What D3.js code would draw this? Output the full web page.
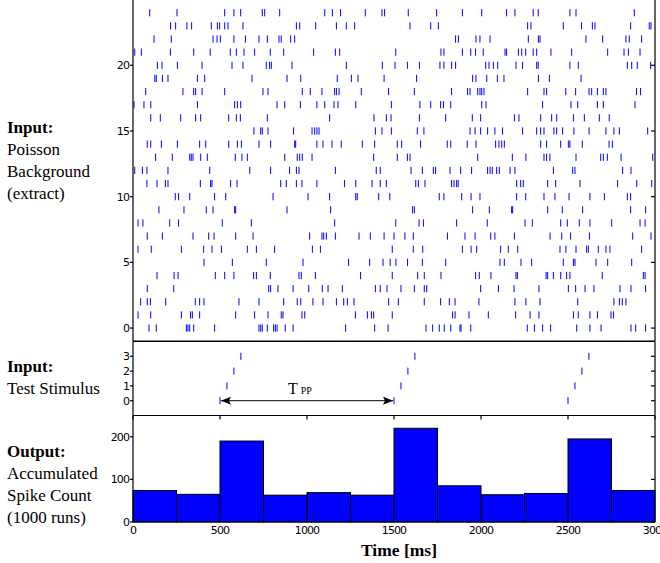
<!DOCTYPE html>
<html>
<head>
<meta charset="utf-8">
<script src="https://cdn.jsdelivr.net/npm/d3@7/dist/d3.min.js"></script>
<style>
    body { margin: 0; background: #fff; }
    svg { display: block; }
</style>
</head>
<body>
<svg id="chart" width="660" height="563"></svg>
<script>
// Poisson background raster, spike times in ms, row 0 first
const rasterRows = [
    [92,134,307,316,326,349,469,724,734,743,772,808,818,828,875,920,1222,1389,1466,1684,1722,1760,1789,1826,1879,1885,1941,2266,2307,2354,2400,2550,2626,2690,2862,2889,2946],
    [29,102,278,331,341,383,590,699,776,852,862,971,987,1278,1347,1370,1383,1490,1837,1851,1931,2042,2199,2282,2333,2531,2559,2626,2669,2747,2761],
    [44,82,100,188,358,383,408,609,724,866,944,964,1034,1092,1169,1211,1232,1270,1469,1525,1674,1768,1818,1851,1988,2195,2258,2339,2556,2764,2795,2812,2833],
    [82,234,780,791,833,920,1010,1088,1121,1203,1393,1421,1460,1540,1617,1674,1688,1998,2100,2190,2333,2502,2544,2598,2649,2799,2862,2946],
    [138,236,259,473,527,580,693,709,789,954,967,1048,1308,1490,1636,1674,1770,1969,1990,2057,2201,2209,2374,2383,2416,2458,2492,2511,2697,2933,2943],
    [408,571,766,977,1239,1360,1437,1478,1511,1578,1663,1797,2109,2134,2230,2291,2473,2531,2540,2661,2728,2866],
    [29,105,278,406,454,508,657,709,814,1031,1077,1490,1611,1665,1893,1943,1975,2113,2157,2211,2454,2488,2546,2607,2617,2674,2718,2741,2923],
    [82,169,345,435,466,590,690,1015,1086,1096,1111,1163,1299,1364,1443,1500,1563,1611,1807,1908,1966,2056,2080,2192,2397,2464,2515,2623,2872,2977],
    [29,57,211,262,513,680,1159,1510,1644,1669,1860,2036,2253,2295,2458,2496,2565,2626,2751,2914,2943],
    [149,293,421,460,584,590,885,1136,1607,1617,1952,2048,2176,2182,2383,2467,2584,2860,2946],
    [243,262,326,469,533,805,1006,1130,1280,1289,1412,1476,1760,1787,1889,1943,1994,2205,2257,2362,2425,2506,2626,2709,2841,2860],
    [80,138,186,201,387,446,454,561,598,849,881,939,971,1057,1216,1280,1374,1421,1456,1625,1640,1678,1831,1845,1860,1869,2205,2228,2243,2383,2429,2569,2785,2895,2981],
    [10,54,80,201,441,671,791,900,939,954,1163,1398,1421,1598,1663,1726,1739,1822,1883,1946,2038,2052,2065,2090,2105,2167,2195,2416,2527,2540,2814,2862],
    [130,226,326,335,345,389,427,588,626,657,872,944,958,973,1029,1383,1519,1577,1592,1981,2180,2258,2362,2377,2396,2546,2688,2703,2726,2805,2987],
    [82,102,163,255,383,418,550,600,623,724,791,929,935,1057,1092,1144,1197,1318,1389,1519,1544,1653,1806,1826,1921,1971,2084,2103,2119,2134,2343,2377,2458,2502,2511,2582,2736,2755],
    [695,734,743,776,923,1029,1044,1057,1069,1393,1431,1485,1634,1672,1937,1966,1998,2038,2080,2124,2239,2320,2343,2362,2419,2435,2469,2534,2621,2718,2764,2795,2958],
    [102,157,274,360,389,550,594,617,772,1130,1385,1456,1483,1646,1797,1950,1998,2192,2218,2343,2406,2435,2531,2594,2680,2737],
    [6,63,102,370,584,600,619,828,872,962,1057,1102,1155,1178,1280,1485,1649,1711,1768,1784,1826,2004,2029,2354,2517,2556,2669,2703,2885],
    [73,287,349,360,397,527,747,776,973,1019,1086,1159,1169,1184,1312,1469,1617,1831,1923,1937,1981,1994,2004,2017,2268,2362,2377,2487,2544,2621,2636,2669,2703,2718,2894,2917],
    [125,134,169,201,370,412,684,885,964,1174,1255,1293,1443,1630,1952,1971,2033,2094,2132,2330,2393,2575],
    [140,167,255,397,569,632,766,785,795,914,1226,1433,1506,1577,1646,1764,1787,1831,1854,2027,2046,2071,2096,2201,2239,2320,2329,2511,2559,2841,2866,2898,2975],
    [10,48,215,349,444,559,594,638,699,789,866,1038,1163,1188,1510,1770,1787,1893,1941,1969,2013,2138,2147,2215,2234,2257,2300,2320,2402,2521,2728,2822,2847,2914],
    [121,220,460,483,502,580,646,724,772,839,852,906,929,1854,1870,1971,1994,2052,2272,2330,2339,2603,2699,2833,2852,2923],
    [216,245,310,337,450,485,498,527,546,632,939,958,1050,1169,1226,1274,1592,1711,1755,2268,2287,2473,2578,2640,2655,2860,2967,2977],
    [96,253,527,580,619,743,757,843,1102,1146,1193,1335,1431,1446,1582,1745,1893,2004,2147,2195,2300,2329,2511,2546,2881]
];

// test stimulus, one row per input channel
const stimulusRows = [
    [500, 1500, 2500],
    [540, 1540, 2540],
    [580, 1580, 2580],
    [620, 1620, 2620]
];

// output histogram, 250 ms bins
const binStarts = [0, 250, 500, 750, 1000, 1250, 1500, 1750, 2000, 2250, 2500, 2750];
const binCounts = [74, 65, 190, 63, 69, 63, 220, 85, 64, 67, 195, 74];
const binWidth = 250;

const rasterTicks = [0, 5, 10, 15, 20];
const stimulusTicks = [0, 1, 2, 3];
const countTicks = [0, 100, 200];
const timeTicks = [0, 500, 1000, 1500, 2000, 2500, 3000];

const ppStart = 500;
const ppEnd = 1500;

const svg = d3.select('#chart');
const left = 133, right = 655;
const blue = '#0000ff';
const tickFont = '"DejaVu Sans", sans-serif';
const serif = '"Liberation Serif", "Times New Roman", serif';

const x = d3.scaleLinear().domain([0, 3000]).range([left, right]);
const yRaster = d3.scaleLinear().domain([-1, 25]).range([341.2, -0.4]);
const yStim = d3.scaleLinear().domain([-1, 4]).range([415.5, 341.5]);
const yCount = d3.scaleLinear().domain([0, 250]).range([522, 415.5]);

// raster spikes
const spikes = [];
rasterRows.forEach((row, i) => row.forEach(t => spikes.push({ t: t, row: i })));

svg.append('g')
    .selectAll('line')
    .data(spikes)
    .enter().append('line')
    .attr('x1', d => x(d.t))
    .attr('x2', d => x(d.t))
    .attr('y1', d => yRaster(d.row) - 3.6)
    .attr('y2', d => yRaster(d.row) + 3.6)
    .attr('stroke', blue)
    .attr('stroke-width', 1);

// stimulus spikes
const stimSpikes = [];
stimulusRows.forEach((row, i) => row.forEach(t => stimSpikes.push({ t: t, row: i })));

svg.append('g')
    .selectAll('line')
    .data(stimSpikes)
    .enter().append('line')
    .attr('x1', d => x(d.t))
    .attr('x2', d => x(d.t))
    .attr('y1', d => yStim(d.row) - 3.5)
    .attr('y2', d => yStim(d.row) + 3.5)
    .attr('stroke', blue)
    .attr('stroke-width', 1);

// histogram bars
svg.append('g')
    .selectAll('rect')
    .data(binStarts.map((s, i) => ({ start: s, count: binCounts[i] })))
    .enter().append('rect')
    .attr('x', d => x(d.start))
    .attr('y', d => yCount(d.count))
    .attr('width', d => x(d.start + binWidth) - x(d.start))
    .attr('height', d => yCount(0) - yCount(d.count))
    .attr('fill', blue)
    .attr('stroke', '#000')
    .attr('stroke-width', 1);

// T_PP arrow
const defs = svg.append('defs');
['start', 'end'].forEach(id => {
    defs.append('marker')
        .attr('id', 'head-' + id)
        .attr('viewBox', '0 0 10 8')
        .attr('refX', 10).attr('refY', 4)
        .attr('markerWidth', 11).attr('markerHeight', 8)
        .attr('markerUnits', 'userSpaceOnUse')
        .attr('orient', id === 'start' ? 'auto-start-reverse' : 'auto')
        .append('path')
        .attr('d', 'M0,0 L10,4 L0,8 L2,4 Z')
        .attr('fill', '#000');
});

svg.append('line')
    .attr('x1', x(ppStart) + 1)
    .attr('x2', x(ppEnd) - 1)
    .attr('y1', yStim(0))
    .attr('y2', yStim(0))
    .attr('stroke', '#000')
    .attr('stroke-width', 1)
    .attr('marker-start', 'url(#head-start)')
    .attr('marker-end', 'url(#head-end)');

const tLabel = svg.append('text')
    .attr('x', 288)
    .attr('y', 394)
    .attr('font-family', serif)
    .attr('font-size', 16)
    .text('T');
tLabel.append('tspan')
    .attr('dx', 3)
    .attr('font-size', 10)
    .text('PP');

// axes frames and ticks
function drawFrame(y, ticks, showTop, xTicksTop) {
    const g = svg.append('g');
    const y0 = y.range()[0], y1 = y.range()[1];
    g.append('line').attr('x1', left).attr('x2', left).attr('y1', y0).attr('y2', y1);
    g.append('line').attr('x1', right).attr('x2', right).attr('y1', y0).attr('y2', y1);
    g.append('line').attr('x1', left).attr('x2', right).attr('y1', y0).attr('y2', y0);
    if (showTop) g.append('line').attr('x1', left).attr('x2', right).attr('y1', y1).attr('y2', y1);
    ticks.forEach(v => {
        g.append('line').attr('x1', left - 3).attr('x2', left).attr('y1', y(v)).attr('y2', y(v));
        g.append('line').attr('x1', right - 4).attr('x2', right).attr('y1', y(v)).attr('y2', y(v));
    });
    if (xTicksTop) {
        timeTicks.forEach(t => {
            g.append('line').attr('x1', x(t)).attr('x2', x(t)).attr('y1', y1).attr('y2', y1 + 4);
        });
    }
    g.selectAll('line').attr('stroke', '#000').attr('stroke-width', 1.2);

    svg.append('g')
        .selectAll('text')
        .data(ticks)
        .enter().append('text')
        .attr('x', left - 4)
        .attr('y', d => y(d))
        .attr('dy', '0.35em')
        .attr('text-anchor', 'end')
        .attr('font-family', tickFont)
        .attr('font-size', 11)
        .attr('letter-spacing', -0.9)
        .text(d => d);
}

drawFrame(yRaster, rasterTicks, false, false);
drawFrame(yStim, stimulusTicks, true, false);
drawFrame(yCount, countTicks, true, true);

// time axis labels
svg.append('g')
    .selectAll('text')
    .data(timeTicks)
    .enter().append('text')
    .attr('x', d => x(d))
    .attr('y', 534)
    .attr('text-anchor', 'middle')
    .attr('font-family', tickFont)
    .attr('font-size', 11)
    .attr('letter-spacing', -0.9)
    .text(d => d);

svg.append('text')
    .attr('x', 399)
    .attr('y', 556)
    .attr('text-anchor', 'middle')
    .attr('font-family', serif)
    .attr('font-size', 17.5)
    .attr('font-weight', 'bold')
    .text('Time [ms]');

// panel descriptions on the left
const panelLabels = [
    { y: 133, lines: ['Input:', 'Poisson', 'Background', '(extract)'] },
    { y: 372, lines: ['Input:', 'Test Stimulus'] },
    { y: 457, lines: ['Output:', 'Accumulated', 'Spike Count', '(1000 runs)'] }
];

panelLabels.forEach(p => {
    const txt = svg.append('text')
        .attr('x', 7)
        .attr('y', p.y)
        .attr('font-family', serif)
        .attr('font-size', 17);
    p.lines.forEach((line, i) => {
        txt.append('tspan')
            .attr('x', 7)
            .attr('dy', i === 0 ? 0 : 21.9)
            .attr('font-weight', i === 0 ? 'bold' : 'normal')
            .text(line);
    });
});
</script>
</body>
</html>
